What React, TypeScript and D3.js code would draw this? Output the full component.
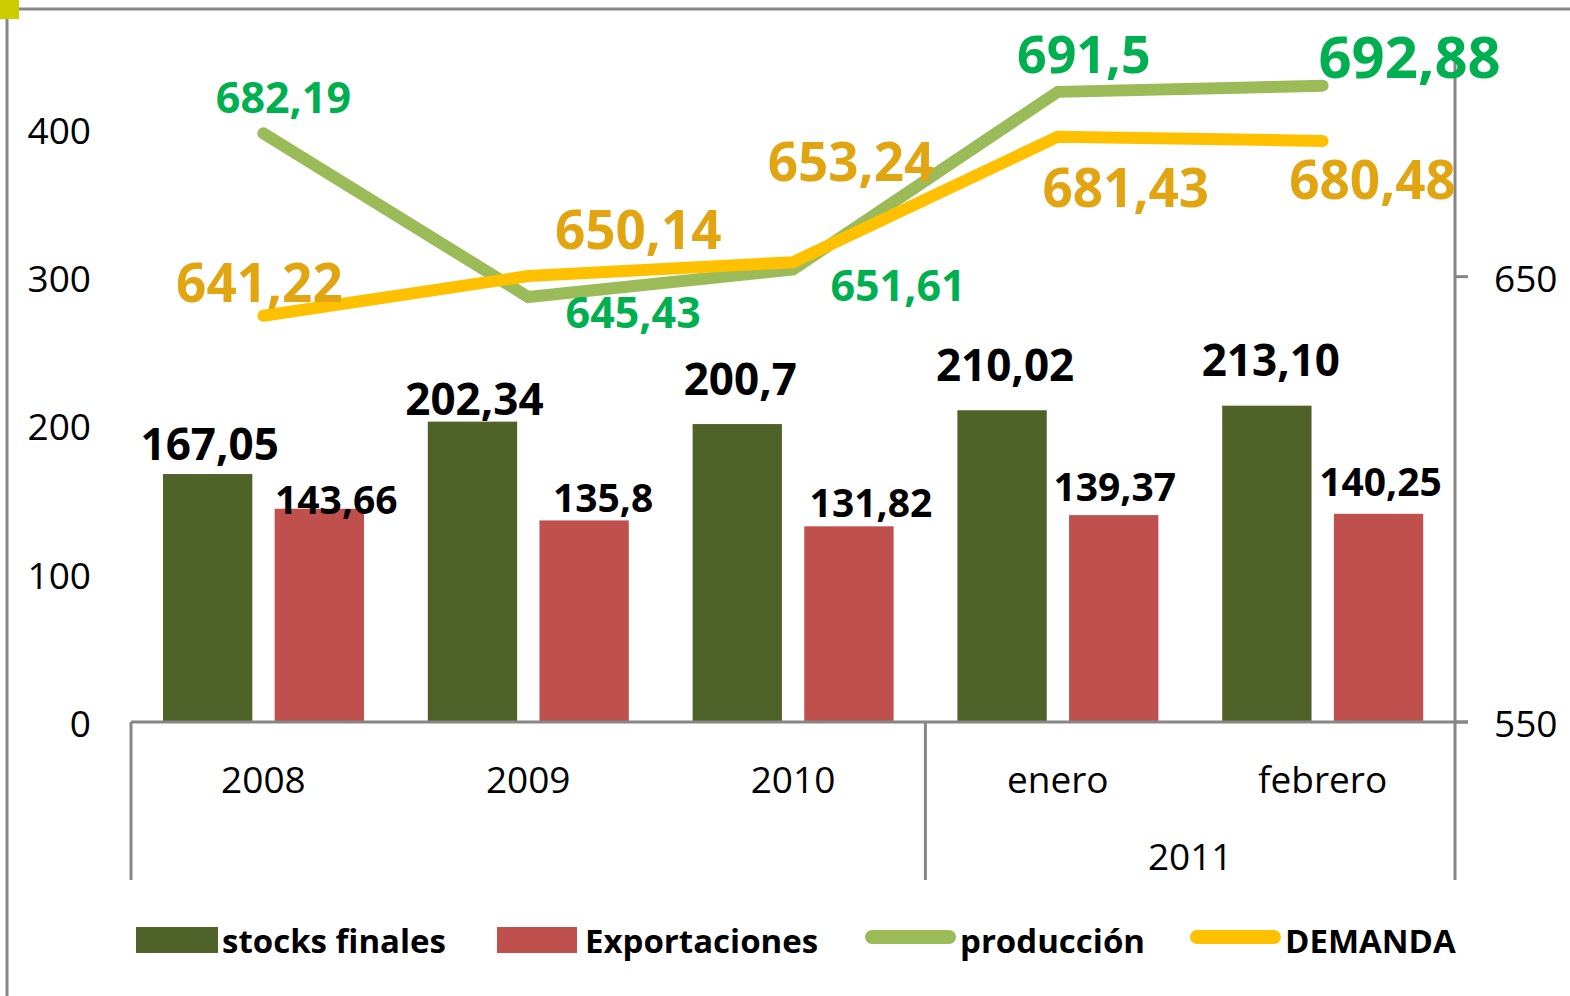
import React from "react";
import * as d3 from "d3";

// categorias y series
const categories = ["2008", "2009", "2010", "enero", "febrero"];
const groupLabel = "2011";
const stocks = [167.05, 202.34, 200.7, 210.02, 213.1];
const exportaciones = [143.66, 135.8, 131.82, 139.37, 140.25];
const produccion = [682.19, 645.43, 651.61, 691.5, 692.88];
const demanda = [641.22, 650.14, 653.24, 681.43, 680.48];
const stocksText = ["167,05", "202,34", "200,7", "210,02", "213,10"];
const exportText = ["143,66", "135,8", "131,82", "139,37", "140,25"];
const prodText = ["682,19", "645,43", "651,61", "691,5", "692,88"];
const demText = ["641,22", "650,14", "653,24", "681,43", "680,48"];
const leftTicks = [0, 100, 200, 300, 400];
const rightTicks = [550, 650];

// label nudges (center of label relative to the point / bar top)
const stocksNudge = [[2, -30], [2, -22], [3, -45], [3, -45], [4, -46]];
const exportNudge = [[17, -9], [19, -22], [22, -23], [1, -28], [2, -32]];
const prodNudge = [[20, -36], [105, 16], [105, 16], [26, -38], [87, -29]];
const demNudge = [[-4, -33], [110, -46], [58, -100], [68, 51], [50, 39]];
const prodSize = [43, 43, 43, 52, 58];

const W = 1570;
const H = 996;
const FONT = "'Open Sans', 'DejaVu Sans', sans-serif";

export default function App() {
  const x0 = d3.scaleBand<string>().domain(categories).range([131, 1455]);
  const x1 = d3
    .scaleBand<string>()
    .domain(["stocks", "export"])
    .range([32, 233])
    .paddingInner(0.2);
  const yL = d3.scaleLinear().domain([0, 450]).range([722, 54]);
  const yR = d3.scaleLinear().domain([550, 700]).range([722, 54]);

  const cx = (i: number) => (x0(categories[i]) as number) + x0.bandwidth() / 2;
  const line = d3
    .line<number>()
    .x((_, i) => cx(i))
    .y((d) => yR(d));

  const axisColor = "#868686";
  const splitX = x0("enero") as number;
  const [rangeL, rangeR] = x0.range();

  return (
    <svg
      width={W}
      height={H}
      style={{ position: "absolute", left: 0, top: 0, background: "#fff" }}
      fontFamily={FONT}
    >
      <rect x={0} y={0} width={W} height={H} fill="#fff" />
      {/* frame */}
      <path d={`M7,${H} V9 H${W}`} fill="none" stroke="#888" strokeWidth={3} />
      <rect x={0} y={0} width={19} height={19} fill="#CCCC00" />

      {/* left axis labels */}
      {leftTicks.map((t) => (
        <text
          key={"l" + t}
          x={91}
          y={yL(t) + 2}
          dy="0.36em"
          textAnchor="end"
          fontSize={37}
          fill="#000"
        >
          {t}
        </text>
      ))}

      {/* right axis */}
      <line x1={rangeR} x2={rangeR} y1={54} y2={880} stroke={axisColor} strokeWidth={3} />
      {rightTicks.map((t) => (
        <g key={"r" + t}>
          <line x1={rangeR} x2={rangeR + 13} y1={yR(t)} y2={yR(t)} stroke={axisColor} strokeWidth={3} />
          <text x={1494} y={yR(t) + 2} dy="0.36em" fontSize={37} fill="#000">
            {t}
          </text>
        </g>
      ))}

      {/* bars */}
      {categories.map((c, i) => {
        const bx = x0(c) as number;
        return (
          <g key={"b" + c}>
            <rect
              x={bx + (x1("stocks") as number)}
              y={yL(stocks[i])}
              width={x1.bandwidth()}
              height={yL(0) - yL(stocks[i])}
              fill="#4F6228"
            />
            <rect
              x={bx + (x1("export") as number)}
              y={yL(exportaciones[i])}
              width={x1.bandwidth()}
              height={yL(0) - yL(exportaciones[i])}
              fill="#C0504D"
            />
          </g>
        );
      })}

      {/* category axis */}
      <line x1={rangeL} x2={rangeR + 13} y1={722} y2={722} stroke={axisColor} strokeWidth={3} />
      <line x1={rangeL} x2={rangeL} y1={722} y2={880} stroke={axisColor} strokeWidth={3} />
      <line x1={splitX} x2={splitX} y1={722} y2={880} stroke={axisColor} strokeWidth={3} />
      {categories.map((c, i) => (
        <text key={"c" + c} x={cx(i)} y={780} dy="0.36em" textAnchor="middle" fontSize={37} fill="#000">
          {c}
        </text>
      ))}
      <text x={(splitX + rangeR) / 2} y={857} dy="0.36em" textAnchor="middle" fontSize={37} fill="#000">
        {groupLabel}
      </text>

      {/* lines */}
      <path
        d={line(produccion) as string}
        fill="none"
        stroke="#9BBB59"
        strokeWidth={12}
        strokeLinecap="round"
        strokeLinejoin="miter"
      />
      <path
        d={line(demanda) as string}
        fill="none"
        stroke="#FFC000"
        strokeWidth={12}
        strokeLinecap="round"
        strokeLinejoin="miter"
      />

      {/* bar labels */}
      {categories.map((c, i) => {
        const bx = x0(c) as number;
        const sx = bx + (x1("stocks") as number) + x1.bandwidth() / 2;
        const ex = bx + (x1("export") as number) + x1.bandwidth() / 2;
        return (
          <g key={"bl" + c} fontWeight="bold" textAnchor="middle" fill="#000">
            <text x={sx + stocksNudge[i][0]} y={yL(stocks[i]) + stocksNudge[i][1]} dy="0.36em" fontSize={44}>
              {stocksText[i]}
            </text>
            <text x={ex + exportNudge[i][0]} y={yL(exportaciones[i]) + exportNudge[i][1]} dy="0.36em" fontSize={39}>
              {exportText[i]}
            </text>
          </g>
        );
      })}

      {/* line labels */}
      {produccion.map((v, i) => (
        <text
          key={"pl" + i}
          x={cx(i) + prodNudge[i][0]}
          y={yR(v) + prodNudge[i][1]}
          dy="0.36em"
          textAnchor="middle"
          fontWeight="bold"
          fontSize={prodSize[i]}
          fill="#00B050"
        >
          {prodText[i]}
        </text>
      ))}
      {demanda.map((v, i) => (
        <text
          key={"dl" + i}
          x={cx(i) + demNudge[i][0]}
          y={yR(v) + demNudge[i][1]}
          dy="0.36em"
          textAnchor="middle"
          fontWeight="bold"
          fontSize={53}
          fill="#E1A512"
        >
          {demText[i]}
        </text>
      ))}

      {/* legend */}
      <g fontWeight="bold" fontSize={33} fill="#000">
        <rect x={136} y={927} width={82} height={26} fill="#4F6228" />
        <text x={222} y={953}>stocks finales</text>
        <rect x={497} y={927} width={80} height={26} fill="#C0504D" />
        <text x={585} y={953}>Exportaciones</text>
        <line x1={872} x2={949} y1={937} y2={937} stroke="#9BBB59" strokeWidth={14} strokeLinecap="round" />
        <text x={960} y={953}>producción</text>
        <line x1={1197} x2={1274} y1={937} y2={937} stroke="#FFC000" strokeWidth={14} strokeLinecap="round" />
        <text x={1285} y={953}>DEMANDA</text>
      </g>
    </svg>
  );
}
